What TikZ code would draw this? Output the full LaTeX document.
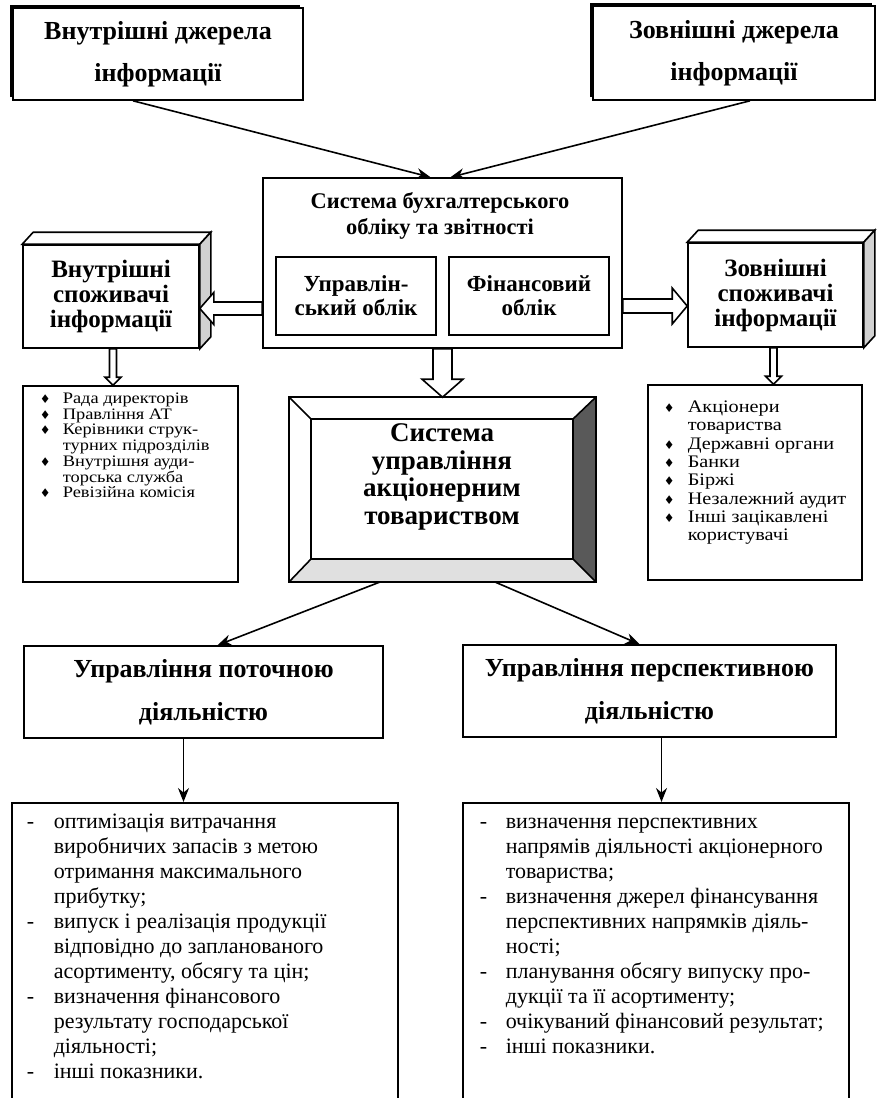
\documentclass[tikz,border=0pt]{standalone}
\usepackage{fontspec}
\setmainfont{Liberation Serif}
\newfontfamily\dejavu{DejaVu Sans}
\newfontfamily\widefont[FakeStretch=1.15]{Liberation Serif}
\usetikzlibrary{calc,positioning,arrows.meta,shadows}
\newcommand{\dmnd}{{\dejavu\fontsize{6}{6}\selectfont ♦}}

\begin{document}
\begin{tikzpicture}[
  x=0.5pt, y=-0.5pt,
  line width=0.8pt,
  >={Stealth[length=7pt,width=5.5pt]},
  srcbox/.style={
    draw,
    fill=white,
    align=center,
    inner sep=0pt,
    font=\fontsize{13}{21}\selectfont\bfseries,
    drop shadow={shadow xshift=-1.6pt, shadow yshift=1.6pt, opacity=1, fill=black}
    },
  accbox/.style={
    draw,
    minimum width=80pt,
    minimum height=39pt,
    align=center,
    font=\fontsize{11.5}{12}\selectfont\bfseries
    },
  cube/.style={
    draw,
    fill=white,
    minimum width=88pt,
    minimum height=51.5pt,
    align=center,
    inner sep=0pt,
    font=\fontsize{12.5}{12.5}\selectfont\bfseries
    },
  listbox/.style={draw, minimum width=107.5pt, minimum height=98pt},
  listtext/.style={anchor=north west, inner sep=0pt},
  mgmbox/.style={
    draw,
    minimum height=46pt,
    align=center,
    font=\fontsize{13}{21.5}\selectfont\bfseries
    },
  taskbox/.style={draw, anchor=north, minimum width=193pt, minimum height=160pt},
  fat/.style n args={3}{
    draw,
    fill=white,
    to path={
      ($(\tikztostart)!#1!-90:(\tikztotarget)$)
      -- ($(\tikztotarget)!#3!(\tikztostart)!#1!90:(\tikztostart)$)
      -- ($(\tikztotarget)!#3!(\tikztostart)!#2!90:(\tikztostart)$)
      -- (\tikztotarget)
      -- ($(\tikztotarget)!#3!(\tikztostart)!#2!-90:(\tikztostart)$)
      -- ($(\tikztotarget)!#3!(\tikztostart)!#1!-90:(\tikztostart)$)
      -- ($(\tikztostart)!#1!90:(\tikztotarget)$)
      -- cycle
    }
  }
]

\useasboundingbox (0,0) rectangle (880,1098);
\clip (0,0) rectangle (880,1098);
\fill[white] (0,0) rectangle (880,1098);

\node[srcbox, minimum width=145pt, minimum height=46pt] (isrc) at (158,54) {Внутрішні джерела\\інформації};
\node[srcbox, minimum width=141pt, minimum height=47pt] (esrc) at (734,53) {Зовнішні джерела\\інформації};

\node[draw, minimum width=179.5pt, minimum height=85pt] (acc) at (442.5,263) {};
\node[align=center, font=\fontsize{11.2}{13}\selectfont\bfseries] (acct) at (440,216) {Система бухгалтерського\\обліку та звітності};
\node[accbox] (macc) at (356,296) {Управлін-\\ський облік};
\node[accbox] (facc) at (529,296) {Фінансовий\\облік};

\node[cube] (icons) at (111,296.5) {Внутрішні\\споживачі\\інформації};
\node[cube, minimum width=87.5pt, minimum height=52pt] (econs) at (775.5,295) {Зовнішні\\споживачі\\інформації};
\foreach \c in {icons, econs} {
  \draw[fill=white] (\c.north west) -- ++(11,-12) -- ($(\c.north east)+(11,-12)$) -- (\c.north east) -- cycle;
  \draw[fill=black!18] (\c.north east) -- ++(11,-12) -- ($(\c.south east)+(11,-12)$) -- (\c.south east) -- cycle;
}

\node[listbox] (ilist) at (130.5,484) {};
\node[listtext, font=\widefont\fontsize{8}{7.8}\selectfont] (ilistt) at (39,392) {\begin{tabular}{@{}p{11.5pt}@{}l@{}}
\dmnd & Рада директорів\\
\dmnd & Правління АТ\\
\dmnd & Керівники струк-\\
      & турних підрозділів\\
\dmnd & Внутрішня ауди-\\
      & торська служба\\
\dmnd & Ревізійна комісія
\end{tabular}};

\node[listbox, minimum width=107pt, minimum height=97.5pt] (elist) at (755,482.5) {};
\node[listtext, font=\widefont\fontsize{8.8}{9.15}\selectfont] (elistt) at (663,399) {\begin{tabular}{@{}p{12pt}@{}l@{}}
\dmnd & Акціонери\\
      & товариства\\
\dmnd & Державні органи\\
\dmnd & Банки\\
\dmnd & Біржі\\
\dmnd & Незалежний аудит\\
\dmnd & Інші зацікавлені\\
      & користувачі
\end{tabular}};

\node[minimum width=152.5pt, minimum height=91.5pt] (corp) at (442.5,489.5) {};
\node[minimum width=130pt, minimum height=69pt] (corpf) at (442,489) {};
\fill[black!65] (corp.north east) -- (corp.south east) -- (corpf.south east) -- (corpf.north east) -- cycle;
\fill[black!12] (corp.south west) -- (corp.south east) -- (corpf.south east) -- (corpf.south west) -- cycle;
\draw (corp.north west) rectangle (corp.south east);
\draw (corpf.north west) rectangle (corpf.south east);
\foreach \a in {north west, north east, south west, south east}
  \draw (corp.\a) -- (corpf.\a);
\node[align=center, font=\fontsize{13.5}{13.85}\selectfont\bfseries] (corpt) at (442,477) {Система\\управління\\акціонерним\\товариством};

\node[mgmbox, minimum width=179.5pt] (lmg) at (203.5,692) {Управління поточною\\діяльністю};
\node[mgmbox, minimum width=186.5pt] (rmg) at (649.5,691) {Управління перспективною\\діяльністю};

\node[taskbox] (ltask) at (205,802) {};
\node[listtext, font=\fontsize{11}{12.5}\selectfont] (ltaskt) at (26,810) {\begin{tabular}{@{}p{13.5pt}@{}l@{}}
- & оптимізація витрачання\\
  & виробничих запасів з метою\\
  & отримання максимального\\
  & прибутку;\\
- & випуск і реалізація продукції\\
  & відповідно до запланованого\\
  & асортименту, обсягу та цін;\\
- & визначення фінансового\\
  & результату господарської\\
  & діяльності;\\
- & інші показники.
\end{tabular}};

\node[taskbox] (rtask) at (656,802) {};
\node[listtext, font=\fontsize{11}{12.5}\selectfont] (rtaskt) at (479,810) {\begin{tabular}{@{}p{13pt}@{}l@{}}
- & визначення перспективних\\
  & напрямів діяльності акціонерного\\
  & товариства;\\
- & визначення джерел фінансування\\
  & перспективних напрямків діяль-\\
  & ності;\\
- & планування обсягу випуску про-\\
  & дукції та її асортименту;\\
- & очікуваний фінансовий результат;\\
- & інші показники.
\end{tabular}};

\draw[->] ([xshift=-12.5pt]isrc.south) -- ([xshift=-6pt]acc.north);
\draw[->] ([xshift=8pt]esrc.south) -- ([xshift=4pt]acc.north);

\coordinate (a1) at ([yshift=-6pt]icons.east);
\coordinate (a2) at ([yshift=-5.5pt]econs.west);
\draw[fat={3.25pt}{8pt}{7pt}] (acc.west |- a1) to (a1);
\draw[fat={3.5pt}{9pt}{7.5pt}] (acc.east |- a2) to (a2);
\draw[fat={4.75pt}{10.25pt}{9pt}] (acc.south) to (corp.north);

\coordinate (a3) at ([xshift=1pt]icons.south);
\coordinate (a4) at ([xshift=-1pt]econs.south);
\draw[fat={1.75pt}{4pt}{4pt}] (a3) to (a3 |- ilist.north);
\draw[fat={1.75pt}{4pt}{4pt}] (a4) to (a4 |- elist.north);

\draw[->] ([xshift=-31pt]corp.south) -- ([xshift=7pt]lmg.north);
\draw[->] ([xshift=26pt]corp.south) -- ([xshift=-5pt]rmg.north);

\coordinate (d1) at ([xshift=-10pt]lmg.south);
\coordinate (d2) at ([xshift=6pt]rmg.south);
\draw[->] (d1) -- (d1 |- ltask.north);
\draw[->] (d2) -- (d2 |- rtask.north);
\end{tikzpicture}
\end{document}
